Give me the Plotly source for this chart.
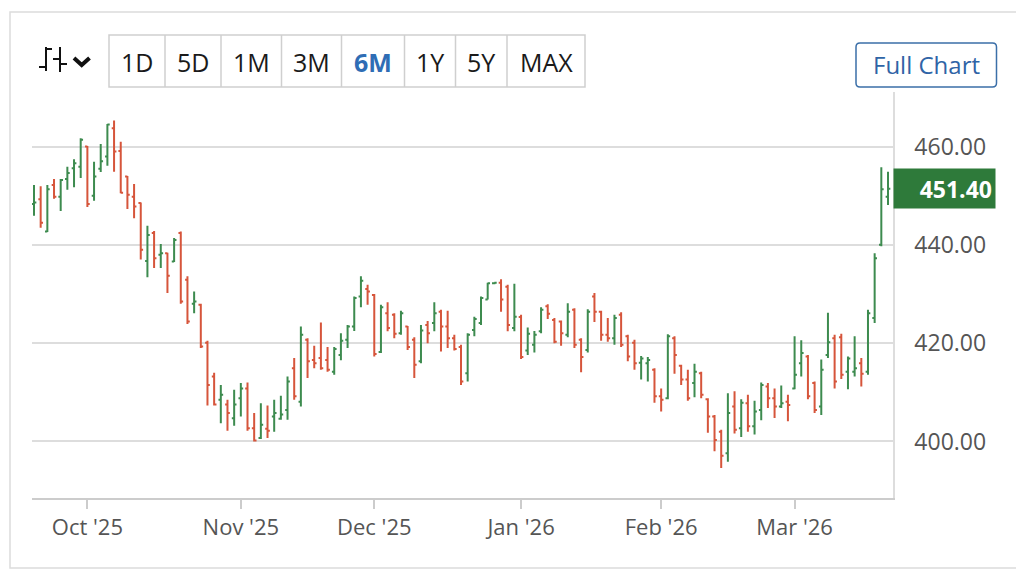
import pandas as pd
import plotly.graph_objects as go

# trading days shown (6M view), Christmas / New Year closed
dates = pd.bdate_range("2025-09-19", "2026-03-20", freq="C",
                       holidays=["2025-12-25", "2026-01-01"]).strftime("%Y-%m-%d").tolist()

month_ticks = ["2025-10-01", "2025-11-03", "2025-12-01", "2026-01-02", "2026-02-02", "2026-03-02"]
month_labels = ["Oct '25", "Nov '25", "Dec '25", "Jan '26", "Feb '26", "Mar '26"]

open_ = [448.3, 449.3, 442.7, 452.2, 449.8, 453.4, 455.6, 455.9, 460.0, 450.0,
         455.5, 458.0, 463.7, 459.1, 453.9, 449.8, 448.5, 436.7, 442.4, 438.0,
         438.3, 436.6, 442.4, 432.9, 428.0, 427.8, 420.1, 413.2, 408.5, 407.5,
         404.7, 408.8, 410.8, 402.7, 400.7, 402.6, 405.1, 404.6, 406.4, 414.9,
         408.1, 420.7, 416.6, 417.0, 416.6, 414.2, 417.6, 420.7, 423.4, 429.5,
         431.0, 429.8, 418.2, 426.1, 425.8, 422.0, 423.4, 420.7, 416.3, 423.7,
         424.1, 426.4, 423.4, 421.0, 419.2, 413.9, 422.7, 424.1, 428.9, 432.2,
         432.3, 431.5, 423.1, 425.3, 418.5, 419.7, 422.4, 427.5, 424.7, 424.4,
         421.7, 426.8, 420.7, 418.6, 429.5, 426.4, 421.7, 421.0, 425.8, 421.4,
         420.1, 416.0, 415.9, 414.6, 409.2, 408.8, 421.0, 415.4, 412.6, 411.9,
         413.9, 408.6, 405.1, 402.0, 397.6, 407.1, 402.7, 407.8, 403.1, 406.4,
         411.2, 408.8, 407.1, 408.1, 410.8, 415.9, 417.3, 411.9, 407.1, 417.6,
         421.0, 421.2, 414.2, 414.2, 415.9, 414.2, 425.1, 440.0, 449.8]
high = [452.2, 451.9, 452.2, 453.4, 453.4, 455.9, 457.4, 461.7, 460.1, 456.9,
        460.5, 464.6, 465.3, 461.0, 454.0, 452.4, 448.6, 443.9, 442.8, 440.2,
        438.4, 441.4, 442.7, 433.6, 430.5, 428.0, 420.5, 414.0, 411.5, 408.5,
        410.5, 411.9, 412.0, 405.8, 407.8, 407.3, 408.5, 409.3, 413.2, 417.0,
        423.4, 421.0, 419.5, 424.2, 419.2, 419.2, 422.0, 423.7, 429.5, 433.6,
        431.9, 430.0, 427.8, 428.3, 426.1, 426.6, 423.5, 421.2, 423.7, 424.5,
        428.3, 426.8, 426.6, 421.7, 419.7, 422.0, 425.4, 429.5, 432.3, 432.4,
        433.0, 431.9, 432.1, 425.8, 423.2, 422.5, 427.3, 427.9, 425.1, 424.6,
        428.1, 427.1, 421.0, 426.9, 430.2, 426.6, 425.1, 425.8, 426.3, 421.7,
        420.7, 417.4, 417.2, 414.9, 410.8, 421.8, 421.4, 415.6, 414.6, 415.8,
        414.2, 408.8, 405.4, 402.4, 409.8, 410.2, 408.6, 409.5, 408.3, 412.0,
        411.9, 410.8, 411.4, 409.5, 421.4, 420.6, 417.6, 412.2, 416.7, 426.2,
        421.7, 421.9, 417.3, 421.4, 417.0, 426.8, 438.3, 455.8, 454.9]
low = [445.9, 443.5, 442.6, 449.4, 446.9, 451.2, 451.7, 453.6, 447.7, 449.0,
       454.8, 456.1, 454.9, 450.5, 447.3, 445.4, 437.0, 433.4, 435.3, 435.3,
       430.2, 436.5, 428.0, 423.9, 426.1, 419.0, 407.3, 407.3, 403.7, 402.2,
       403.2, 405.1, 402.2, 400.0, 400.5, 400.7, 402.0, 404.4, 404.4, 408.5,
       407.1, 412.9, 414.9, 414.6, 414.2, 413.6, 416.5, 419.0, 422.5, 427.3,
       427.8, 417.3, 418.0, 422.4, 421.0, 421.7, 418.6, 412.9, 415.9, 420.0,
       422.4, 418.3, 419.0, 418.5, 411.5, 412.2, 421.4, 423.7, 428.9, 432.0,
       426.4, 422.4, 422.4, 416.8, 417.6, 418.1, 422.0, 424.9, 420.0, 419.5,
       421.2, 419.0, 414.1, 418.1, 424.3, 420.5, 420.3, 419.7, 419.2, 416.3,
       414.6, 412.6, 412.2, 407.9, 406.1, 408.6, 413.8, 411.5, 408.3, 409.0,
       408.8, 401.8, 398.0, 394.6, 395.9, 401.6, 400.9, 402.0, 401.4, 404.3,
       406.8, 404.8, 406.8, 404.1, 410.6, 413.2, 408.6, 405.8, 405.4, 417.0,
       410.8, 412.7, 410.6, 413.2, 411.2, 413.6, 424.1, 439.7, 448.1]
close = [448.6, 444.5, 451.3, 449.8, 453.2, 454.6, 456.6, 461.4, 448.3, 453.9,
         457.0, 464.5, 459.0, 450.6, 450.2, 447.8, 439.0, 442.0, 437.3, 438.3,
         433.7, 441.0, 428.5, 424.4, 428.5, 419.3, 411.5, 407.5, 409.5, 405.8,
         407.5, 410.8, 402.7, 400.2, 403.4, 402.2, 405.8, 405.5, 412.2, 409.2,
         421.7, 416.3, 415.9, 414.9, 414.6, 418.8, 420.5, 423.4, 429.2, 432.7,
         430.5, 417.8, 427.3, 423.1, 421.9, 426.1, 419.2, 415.6, 422.6, 422.0,
         426.1, 423.4, 421.0, 418.8, 412.2, 421.7, 424.9, 429.2, 432.2, 432.3,
         428.9, 423.7, 425.4, 417.2, 421.9, 421.7, 426.8, 426.0, 420.3, 422.0,
         426.4, 419.7, 417.2, 426.4, 426.4, 421.7, 421.0, 425.1, 419.7, 417.3,
         415.9, 416.9, 416.6, 409.2, 408.5, 421.4, 417.6, 412.6, 408.8, 414.2,
         409.5, 405.1, 400.3, 397.1, 405.8, 402.4, 407.9, 403.1, 406.1, 411.5,
         408.8, 407.1, 407.8, 407.4, 413.6, 418.0, 409.2, 406.4, 414.6, 420.2,
         412.2, 413.6, 416.9, 414.9, 413.8, 426.1, 437.3, 451.3, 451.4]

y_ticks = [400, 420, 440, 460]
ranges = ["1D", "5D", "1M", "3M", "6M", "1Y", "5Y", "MAX"]
range_edges = [109, 165, 221, 281.5, 341.5, 404.5, 455.5, 507, 585]
active_range = "6M"

GREEN = "#3d8b4f"
RED = "#d6553b"
FONT = "Open Sans"

# page is offset 8px by the body margin; work in page pixels
OFF = 8
W, H = 1024 - OFF, 576 - OFF
L, R, T, B = 32, 893, 92, 498      # plot area in page pixels
def px(x):
    return (x - L) / (R - L)
def py(y):
    return (B - y) / (B - T)

fig = go.Figure()
fig.add_trace(go.Ohlc(
    x=dates, open=open_, high=high, low=low, close=close,
    increasing=dict(line=dict(color=GREEN, width=2)),
    decreasing=dict(line=dict(color=RED, width=2)),
    tickwidth=0.35, hoverinfo="skip"))

shapes = []
ann = []

# outer frame
shapes.append(dict(type="rect", xref="paper", yref="paper", x0=px(10), x1=px(1017), y0=py(12), y1=py(568),
                   line=dict(color="#dcdcdc", width=1.5), layer="below"))

# range buttons
shapes.append(dict(type="rect", xref="paper", yref="paper", x0=px(range_edges[0]), x1=px(range_edges[-1]),
                   y0=py(35), y1=py(87), line=dict(color="#cfcfcf", width=1.5)))
for i, lab in enumerate(ranges):
    if i > 0:
        shapes.append(dict(type="line", xref="paper", yref="paper", x0=px(range_edges[i]), x1=px(range_edges[i]),
                           y0=py(35), y1=py(87), line=dict(color="#cfcfcf", width=1.5)))
    act = lab == active_range
    ann.append(dict(xref="paper", yref="paper", x=px((range_edges[i] + range_edges[i + 1]) / 2), y=py(62),
                    xanchor="center", yanchor="middle",
                    text="<b>%s</b>" % lab if act else lab, showarrow=False,
                    font=dict(family=FONT, size=25, color="#2f6db5" if act else "#1a1a1a")))

# bar-type icon and chevron
icon = [(46, 47, 46, 71), (39, 67, 46, 67), (46, 49, 52, 49),
        (60, 47, 60, 72), (53, 59, 60, 59), (60, 64, 67, 64)]
for x0, y0, x1, y1 in icon:
    shapes.append(dict(type="line", xref="paper", yref="paper", x0=px(x0), y0=py(y0), x1=px(x1), y1=py(y1),
                       line=dict(color="#111", width=2)))
shapes.append(dict(type="path", xref="paper", yref="paper",
                   path="M %f,%f L %f,%f L %f,%f" % (px(74), py(58), px(81.7), py(65), px(89.5), py(58)),
                   line=dict(color="#111", width=4)))

# Full Chart button (rounded)
bx0, bx1, by0, by1, r = 856, 996.5, 43, 87, 4
rx, ry = r / (R - L), r / (B - T)
path = ("M %f,%f L %f,%f Q %f,%f %f,%f L %f,%f Q %f,%f %f,%f L %f,%f Q %f,%f %f,%f L %f,%f Q %f,%f %f,%f Z" % (
    px(bx0) + rx, py(by0), px(bx1) - rx, py(by0), px(bx1), py(by0), px(bx1), py(by0) - ry,
    px(bx1), py(by1) + ry, px(bx1), py(by1), px(bx1) - rx, py(by1),
    px(bx0) + rx, py(by1), px(bx0), py(by1), px(bx0), py(by1) + ry,
    px(bx0), py(by0) - ry, px(bx0), py(by0), px(bx0) + rx, py(by0)))
shapes.append(dict(type="path", xref="paper", yref="paper", path=path, line=dict(color="#3b6fa8", width=1.5)))
ann.append(dict(xref="paper", yref="paper", x=px((bx0 + bx1) / 2), y=py(65), xanchor="center", yanchor="middle",
                text="Full Chart", showarrow=False,
                font=dict(family=FONT, size=24, color="#2f64a6")))

# last price tag
ann.append(dict(xref="paper", yref="y", x=1, xanchor="left", yanchor="middle", y=close[-1],
                text="<b>%.2f</b>" % close[-1],
                showarrow=False, bgcolor="#2e7a3a", width=95, height=33, borderpad=3, align="right",
                font=dict(family=FONT, size=23, color="white")))

fig.update_layout(
    width=W, height=H,
    margin=dict(l=L - OFF, r=W + OFF - R, t=T - OFF, b=H + OFF - B),
    paper_bgcolor="white", plot_bgcolor="white",
    showlegend=False,
    font=dict(family=FONT),
    shapes=shapes, annotations=ann,
    xaxis=dict(type="category", range=[-0.3, len(dates) - 0.25], rangeslider=dict(visible=False),
               tickmode="array", tickvals=month_ticks, ticktext=month_labels,
               showgrid=False, showline=True, linecolor="#cccccc", linewidth=1.5,
               ticks="outside", ticklen=9, tickcolor="#cccccc", tickwidth=1.5,
               tickfont=dict(family=FONT, size=22, color="#555555")),
    yaxis=dict(side="right", range=[388.5, 471.1], tickmode="array", tickvals=y_ticks, tickformat=".2f",
               showgrid=True, gridcolor="#dddddd", gridwidth=1.5, zeroline=False,
               showline=True, linecolor="#dddddd", linewidth=1.5, ticklabelstandoff=15,
               tickfont=dict(family=FONT, size=23, color="#555555")),
)

fig.write_html("out.html")
